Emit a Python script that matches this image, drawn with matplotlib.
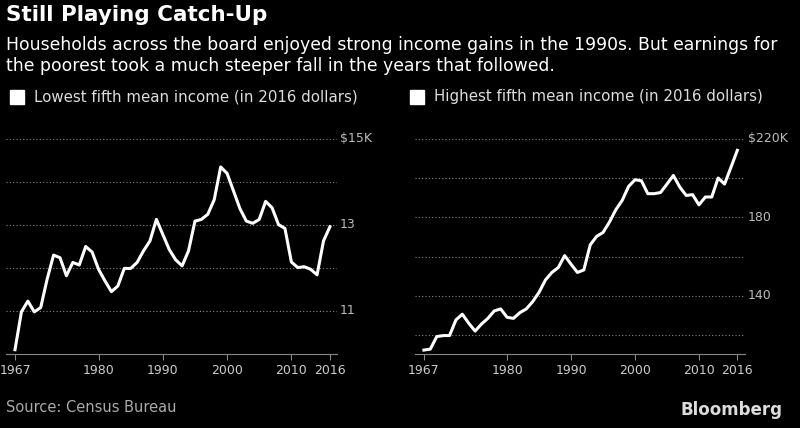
import matplotlib.pyplot as plt

years = list(range(1967, 2017))
lowest = [10.1, 10.98, 11.23, 10.98, 11.08, 11.74, 12.30, 12.24, 11.82, 12.13,
          12.07, 12.5, 12.37, 11.97, 11.70, 11.45, 11.58, 11.99, 11.99, 12.13,
          12.40, 12.63, 13.13, 12.78, 12.43, 12.19, 12.05, 12.40, 13.09, 13.13,
          13.25, 13.59, 14.35, 14.20, 13.79, 13.38, 13.09, 13.04, 13.13, 13.55,
          13.40, 13.01, 12.92, 12.14, 12.01, 12.03, 11.97, 11.84, 12.63, 12.96]
highest = [112.3, 112.8, 119.2, 119.7, 119.7, 127.7, 130.6, 126.0, 122.0, 125.6,
           128.5, 132.3, 133.3, 129.0, 128.5, 131.4, 133.3, 137.0, 141.8, 148.1,
           151.9, 154.4, 160.5, 156.1, 151.9, 153.2, 166.0, 170.3, 172.3, 177.6,
           183.9, 188.7, 195.8, 199.2, 198.7, 192.1, 192.1, 192.7, 197.0, 201.4,
           195.5, 191.2, 191.6, 186.4, 190.4, 190.4, 200.1, 197.0, 205.5, 214.2]
xticks = [1967, 1980, 1990, 2000, 2010, 2016]

W, H = 800, 428
fig = plt.figure(figsize=(8, 4.28), dpi=100, facecolor='black')

def style(ax, grid, labels, ylim, xlim):
    ax.set_facecolor('black')
    ax.set_xlim(*xlim)
    ax.set_ylim(*ylim)
    for s in ['top', 'right', 'left']:
        ax.spines[s].set_visible(False)
    ax.spines['bottom'].set_color('#888888')
    ax.set_yticks([])
    ax.set_xticks(xticks)
    ax.set_xticklabels([str(y) for y in xticks])
    ax.tick_params(axis='x', colors='#888888', labelcolor='#cccccc', labelsize=9, length=4)
    for g in grid:
        ax.axhline(g, color='#888888', linestyle=(0, (1, 2)), linewidth=0.8, zorder=1)
    for v, t in labels:
        ax.text(1.008, v, t, transform=ax.get_yaxis_transform(), color='#bbbbbb',
                fontsize=9, va='center', ha='left')

ax1 = fig.add_axes([6 / W, (H - 354) / H, 331 / W, 215 / H])
ax1.plot(years, lowest, color='white', lw=2.2, zorder=3)
style(ax1, [11, 12, 13, 14, 15], [(15, '$15K'), (13, '13'), (11, '11')],
      (10.0, 15.0), (1965.6, 2017.1))

ax2 = fig.add_axes([415 / W, (H - 354) / H, 330 / W, 215 / H])
ax2.plot(years, highest, color='white', lw=2.2, zorder=3)
style(ax2, [120, 140, 160, 180, 200, 220], [(220, '$220K'), (180, '180'), (140, '140')],
      (110.3, 220), (1965.6, 2017.2))

fig.text(6 / W, 1 - 15 / H, 'Still Playing Catch-Up', color='white', fontsize=15.5,
         fontweight='bold', va='center')
fig.text(6 / W, 1 - 45 / H, 'Households across the board enjoyed strong income gains in the 1990s. But earnings for',
         color='white', fontsize=12.4, va='center')
fig.text(6 / W, 1 - 66 / H, 'the poorest took a much steeper fall in the years that followed.',
         color='white', fontsize=12.4, va='center')
for x0, label in [(10, 'Lowest fifth mean income (in 2016 dollars)'),
                  (410, 'Highest fifth mean income (in 2016 dollars)')]:
    fig.patches.append(plt.Rectangle((x0 / W, 1 - 104 / H), 14 / W, 14 / H,
                                     transform=fig.transFigure, color='white'))
    fig.text((x0 + 24) / W, 1 - 97 / H, label, color='#dddddd', fontsize=10.8, va='center')

fig.text(6 / W, 1 - 408 / H, 'Source: Census Bureau', color='#aaaaaa', fontsize=10.5, va='center')
fig.text(782 / W, 1 - 410 / H, 'Bloomberg', color='#dddddd', fontsize=12, fontweight='bold',
         va='center', ha='right')

fig.savefig('out.png', dpi=100, facecolor='black')
